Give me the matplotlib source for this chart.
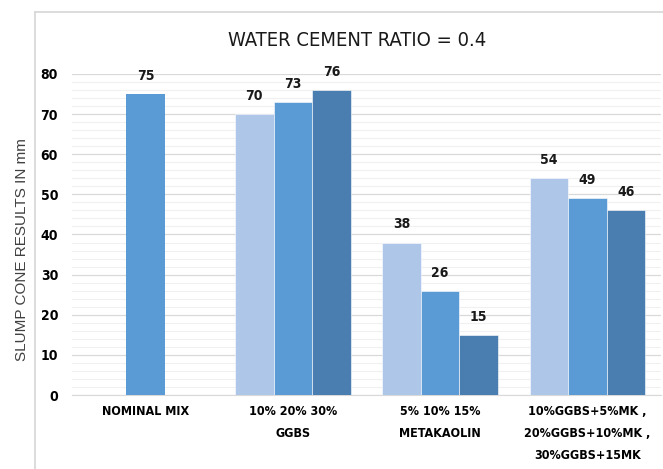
import matplotlib
matplotlib.use("Agg")
import matplotlib.pyplot as plt
from matplotlib.lines import Line2D
import numpy as np

categories = ["NOMINAL MIX", "10% 20% 30%\nGGBS", "5% 10% 15%\nMETAKAOLIN",
              "10%GGBS+5%MK ,\n20%GGBS+10%MK ,\n30%GGBS+15MK"]
nominal = [75]
series_low = [70, 38, 54]
series_mid = [73, 26, 49]
series_high = [76, 15, 46]
yticks = [0, 10, 20, 30, 40, 50, 60, 70, 80]

title = "WATER CEMENT RATIO = 0.4"
ylabel = "SLUMP CONE RESULTS IN mm"

c_light = "#AEC6E7"
c_mid = "#5B9BD5"
c_dark = "#4A7EB0"

plt.rcParams['font.family'] = ['DejaVu Sans']
plt.rcParams['font.stretch'] = 'condensed'

W, H = 663, 469
fig = plt.figure(figsize=(W / 100, H / 100), dpi=100)
ax = fig.add_axes([72 / W, (H - 395) / H, (661 - 72) / W, (395 - 74) / H])

bw = 0.262
x = np.arange(len(categories))

fig.add_artist(Line2D([35 / W, 1], [1 - 12 / H, 1 - 12 / H], color="#D9D9D9", lw=1.3, transform=fig.transFigure))
fig.add_artist(Line2D([35 / W, 35 / W], [0, 1 - 12 / H], color="#D9D9D9", lw=1.3, transform=fig.transFigure))

bars = []
bars.append(ax.bar([x[0]], nominal, width=bw, color=c_mid, zorder=3))
gx = x[1:]
bars.append(ax.bar(gx - bw, series_low, width=bw, color=c_light, zorder=3, edgecolor="white", linewidth=0.4))
bars.append(ax.bar(gx, series_mid, width=bw, color=c_mid, zorder=3, edgecolor="white", linewidth=0.4))
bars.append(ax.bar(gx + bw, series_high, width=bw, color=c_dark, zorder=3, edgecolor="white", linewidth=0.4))

for b in bars:
    ax.bar_label(b, padding=8, fontsize=10, fontweight="bold", color="#1a1a1a")

ax.set_xlim(-0.5, 3.5)
ax.set_ylim(0, 80)
ax.set_yticks(yticks)
ax.set_yticks(np.arange(0, 81, 2), minor=True)
ax.grid(axis="y", which="major", color="#D9D9D9", lw=0.9, zorder=0)
ax.grid(axis="y", which="minor", color="#F0F0F0", lw=0.8, zorder=0)
ax.tick_params(axis="y", which="both", length=0, labelsize=10, pad=10)
for t in ax.get_yticklabels():
    t.set_fontweight("bold")
ax.set_xticks(x)
ax.set_xticklabels(categories, fontsize=9, fontweight="bold", linespacing=1.9)
ax.tick_params(axis="x", length=0, pad=7)
for s in ["top", "right", "left"]:
    ax.spines[s].set_visible(False)
ax.spines["bottom"].set_color("#D9D9D9")

fig.text(357 / W, 1 - 41 / H, title, ha="center", va="center", fontsize=14.5, color="#1a1a1a")
fig.text(22 / W, 1 - 250 / H, ylabel, ha="center", va="center", rotation=90, fontsize=11,
         color="#404040", family=["Liberation Sans", "DejaVu Sans"], stretch="normal")

fig.savefig("out.png", dpi=100)
